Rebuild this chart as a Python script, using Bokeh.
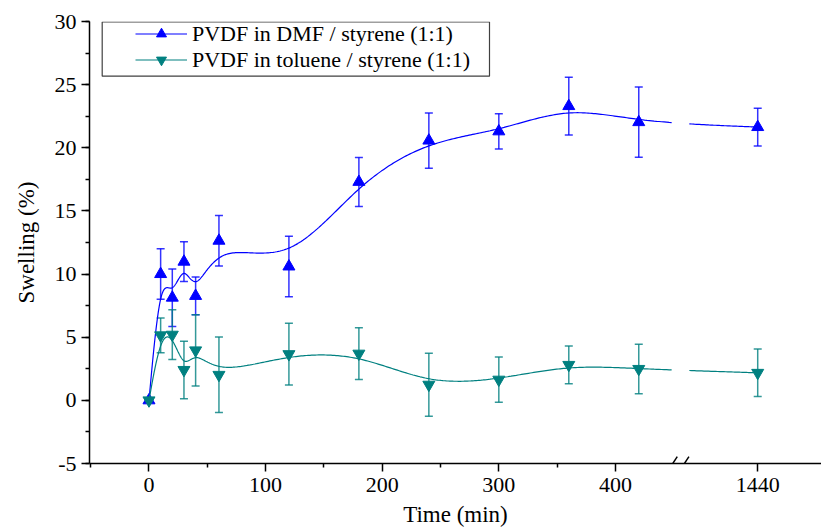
import numpy as np
from bokeh.plotting import figure
from bokeh.models import (ColumnDataSource, Whisker, TeeHead, FixedTicker, SingleIntervalTicker,
                          Legend, LegendItem, BoxAnnotation, Arrow, Range1d)
from bokeh.embed import file_html
from bokeh.resources import INLINE

# ---------------- data ----------------
time_min = [0, 10, 20, 30, 40, 60, 120, 180, 240, 300, 360, 420, 1440]
dmf_swelling = [0, 10.0, 8.13, 10.98, 8.27, 12.64, 10.6, 17.3, 20.57, 21.3, 23.3, 22.03, 21.64]
dmf_error = [0, 2.0, 2.28, 1.57, 1.49, 2.0, 2.39, 1.94, 2.19, 1.4, 2.29, 2.78, 1.49]
tol_swelling = [0, 5.15, 5.2, 2.41, 3.96, 2.02, 3.66, 3.7, 1.24, 1.64, 2.81, 2.49, 2.18]
tol_error = [0, 1.38, 1.97, 2.28, 2.82, 2.99, 2.45, 2.05, 2.5, 1.79, 1.49, 1.96, 1.88]

tick_values = [0, 100, 200, 300, 400, 1440]
tick_labels = ["0", "100", "200", "300", "400", "1440"]
minor_tick_values = [-50, 50, 150, 250, 350]
y_tick_values = [-5, 0, 5, 10, 15, 20, 25, 30]
y_tick_labels = ["-5", "0", "5", "10", "15", "20", "25", "30"]

dmf_label = "PVDF in DMF / styrene (1:1)"
tol_label = "PVDF in toluene / styrene (1:1)"

DMF_COLOR = "#0000FF"
TOL_COLOR = "#008080"
FONT = "Liberation Serif"

# broken axis: values after the break are shifted so that 1440 sits at 522
BREAK_CENTER = 454
GAP_LO, GAP_HI = 449.5, 461.5
POS_1440 = 522


def axis_pos(t):
    t = np.asarray(t, dtype=float)
    return np.where(t > BREAK_CENTER, t - 1440 + POS_1440, t)


def bspline(xs, ys, n=40):
    px = np.concatenate([[xs[0]] * 2, xs, [xs[-1]] * 2])
    py = np.concatenate([[ys[0]] * 2, ys, [ys[-1]] * 2])
    ox, oy = [], []
    nseg = len(px) - 3
    for j in range(nseg):
        u = np.linspace(0, 1, n, endpoint=(j == nseg - 1))
        b0 = (1 - u) ** 3 / 6
        b1 = (3 * u ** 3 - 6 * u ** 2 + 4) / 6
        b2 = (-3 * u ** 3 + 3 * u ** 2 + 3 * u + 1) / 6
        b3 = u ** 3 / 6
        ox.append(b0 * px[j] + b1 * px[j + 1] + b2 * px[j + 2] + b3 * px[j + 3])
        oy.append(b0 * py[j] + b1 * py[j + 1] + b2 * py[j + 2] + b3 * py[j + 3])
    ox = np.concatenate(ox)
    oy = np.concatenate(oy)
    oy = np.where((ox > GAP_LO) & (ox < GAP_HI), np.nan, oy)
    return ox, oy


xpos = axis_pos(time_min)

p = figure(width=821, height=531, output_backend="svg", toolbar_location=None,
           x_range=Range1d(-51, 576.7), y_range=Range1d(-5, 30),
           min_border_left=89, min_border_right=0, min_border_top=21, min_border_bottom=68)
p.outline_line_color = None
p.xgrid.visible = False
p.ygrid.visible = False
p.background_fill_color = "white"
p.border_fill_color = "white"

# ---------------- series ----------------
series = [
    (dmf_swelling, dmf_error, DMF_COLOR, "triangle", dmf_label),
    (tol_swelling, tol_error, TOL_COLOR, "inverted_triangle", tol_label),
]
items = []
for ys, errs, color, marker, label in series:
    ys = np.asarray(ys, dtype=float)
    errs = np.asarray(errs, dtype=float)
    sx, sy = bspline(xpos, ys)
    line_r = p.line(sx, sy, line_color=color, line_width=1.2)

    mask = errs > 0
    esrc = ColumnDataSource(dict(x=xpos[mask], upper=(ys + errs)[mask], lower=(ys - errs)[mask]))
    w = Whisker(source=esrc, base="x", upper="upper", lower="lower", dimension="height",
                line_color=color, line_width=1.5, line_alpha=0.8,
                upper_head=TeeHead(size=8, line_color=color, line_width=1.5, line_alpha=0.8),
                lower_head=TeeHead(size=8, line_color=color, line_width=1.5, line_alpha=0.8))
    p.add_layout(w)

    sc_r = p.scatter(xpos, ys, marker=marker, size=12, fill_color=color, line_color=color)
    items.append(LegendItem(label=label, renderers=[line_r, sc_r]))

# ---------------- axes ----------------
tick_pos = [float(v) for v in axis_pos(tick_values)]
p.xaxis.ticker = FixedTicker(ticks=tick_pos, minor_ticks=minor_tick_values)
p.xaxis.major_label_overrides = {tp: lab for tp, lab in zip(tick_pos, tick_labels)}
p.yaxis.ticker = SingleIntervalTicker(interval=5, num_minor_ticks=2)
p.yaxis.major_label_overrides = {v: lab for v, lab in zip(y_tick_values, y_tick_labels)}

for ax in (p.xaxis[0], p.yaxis[0]):
    ax.axis_line_color = "black"
    ax.axis_line_width = 1.5
    ax.major_tick_line_color = "black"
    ax.major_tick_line_width = 1.5
    ax.minor_tick_line_color = "black"
    ax.minor_tick_line_width = 1.5
    ax.major_tick_out = 8
    ax.major_tick_in = 0
    ax.minor_tick_out = 4
    ax.minor_tick_in = 0
    ax.major_label_text_font = FONT
    ax.major_label_text_font_size = "22px"
    ax.major_label_text_color = "black"
    ax.axis_label_text_font = FONT
    ax.axis_label_text_font_size = "23px"
    ax.axis_label_text_font_style = "normal"
    ax.axis_label_text_color = "black"

p.xaxis.major_label_standoff = 6
p.yaxis.major_label_standoff = 5
p.yaxis.axis_label = "Swelling (%)"
p.yaxis.axis_label_standoff = 13
p.xaxis.axis_label = "Time (min)"
p.xaxis.axis_label_standoff = 7

# axis break marks
for c in (BREAK_CENTER - 5, BREAK_CENTER + 5):
    p.add_layout(Arrow(end=None, x_start=c - 4, y_start=-5.6, x_end=c + 4, y_end=-4.45,
                       line_color="black", line_width=1.5))

# ---------------- legend ----------------
p.add_layout(BoxAnnotation(left=12.7, right=400, bottom=387.3, top=441.5,
                           left_units="screen", right_units="screen",
                           bottom_units="screen", top_units="screen",
                           fill_color="white", fill_alpha=1.0,
                           line_color="#404040", line_width=1.2, line_alpha=1.0))
legend = Legend(items=items, location=(46, 390.2), padding=0, spacing=0, margin=0,
                glyph_width=52, glyph_height=25, label_height=25, label_standoff=5,
                border_line_color=None, background_fill_alpha=0,
                label_text_font=FONT, label_text_font_size="22px", label_text_color="black")
p.add_layout(legend)

open("out.html", "w").write(file_html(p, INLINE))
